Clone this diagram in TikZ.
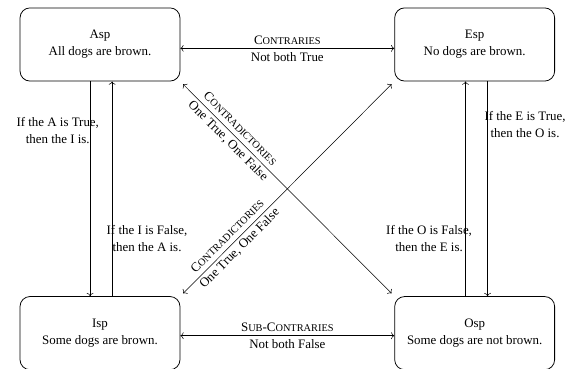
\documentclass[tikz,border=0pt]{standalone}
\usepackage{fontspec}
\setmainfont{Liberation Serif}
\usepackage{tikz}
\usetikzlibrary{arrows.meta, positioning}
\linespread{1.1}
\newcommand{\smc}[1]{{\footnotesize\MakeUppercase{#1}}}
\tikzset{
  prop/.style={
    rectangle, rounded corners=0.27cm,
    draw, semithick,
    minimum width=4.35cm, minimum height=1.99cm,
    align=center
  },
  arr/.style={->},
  biarr/.style={<->},
  lbl/.style={align=center, inner sep=1pt},
  note/.style={align=center, inner sep=0pt},
}
\begin{document}
\begin{tikzpicture}[node distance=5.84cm and 5.82cm]

  \useasboundingbox (0,0) rectangle (15.45,-10.01);

  % Nodes
  \node[prop] (Asp) at (2.72,-1.21) {Asp\\ All dogs are brown.};
  \node[prop, right=of Asp] (Esp) {Esp\\ No dogs are brown.};
  \node[prop, below=of Asp] (Isp) {Isp\\ Some dogs are brown.};
  \node[prop, below=of Esp] (Osp) {Osp\\ Some dogs are not brown.};

  % Contraries and sub-contraries
  \draw[biarr] ([yshift=-3pt]Esp.west) -- ([yshift=-3pt]Asp.east)
    node[midway, lbl] {C\smc{ontraries}\\ Not both True};
  \draw[biarr] ([yshift=-2pt]Osp.west) -- ([yshift=-2pt]Isp.east)
    node[midway, lbl] {S\smc{ub}-C\smc{ontraries}\\ Not both False};

  % Contradictories
  \draw[biarr, shorten <=3pt, shorten >=3pt] (Asp.south east) -- (Osp.north west)
    node[pos=0.25, sloped, lbl] {C\smc{ontradictories}\\ One True, One False};
  \draw[biarr, shorten <=3pt, shorten >=3pt] (Isp.north east) -- (Esp.south west)
    node[pos=0.25, sloped, lbl] {C\smc{ontradictories}\\ One True, One False};

  % Subalterns
  \draw[arr] ([xshift=-0.27cm]Asp.south) -- ([xshift=-0.27cm]Isp.north)
    node[pos=0.23, xshift=-0.88cm, note] {If the A is True,\\ then the I is.};
  \draw[arr] ([xshift=0.33cm]Isp.north) -- ([xshift=0.33cm]Asp.south)
    node[pos=0.27, xshift=0.95cm, note] {If the I is False,\\ then the A is.};
  \draw[arr] ([xshift=0.35cm]Esp.south) -- ([xshift=0.35cm]Osp.north)
    node[pos=0.2, xshift=1.02cm, note] {If the E is True,\\ then the O is.};
  \draw[arr] ([xshift=-0.25cm]Osp.north) -- ([xshift=-0.25cm]Esp.south)
    node[pos=0.27, xshift=-0.99cm, note] {If the O is False,\\ then the E is.};

\end{tikzpicture}
\end{document}
